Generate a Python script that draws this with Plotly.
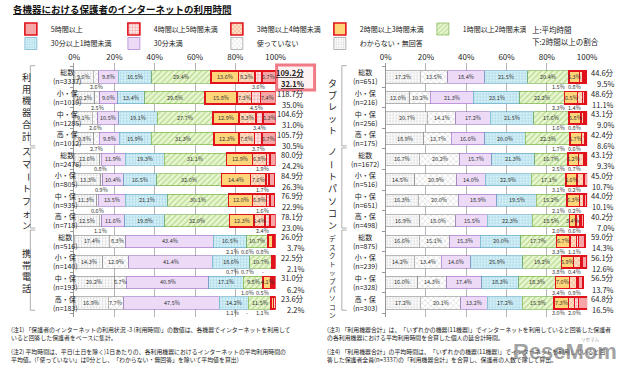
import plotly.graph_objects as go

FONT = "Noto Sans CJK JP"

# ---------------- data ----------------
title_text = "各機器における保護者のインターネットの利用時間"
categories = ["わからない・無回答", "使っていない", "30分未満", "30分以上1時間未満",
              "1時間以上2時間未満", "2時間以上3時間未満", "3時間以上4時間未満",
              "4時間以上5時間未満", "5時間以上"]
row_names = ["総数", "小・保", "中・保", "高・保"] * 3
tick_vals = [0, 20, 40, 60, 80, 100]
tick_text = ["0%", "20%", "40%", "60%", "80%", "100%"]

groups_left = ["利用機器合計", "スマートフォン", "携帯電話"]
n_left = [3337, 1019, 1285, 1012, 2476, 805, 935, 718, 516, 140, 193, 183]
unknown_left = [9.6, 10.2, 9.1, 9.8, 12.6, 13.3, 11.3, 12.5, 17.4, 14.3, 20.2, 16.9]
notuse_left = [2.6, 2.5, 2.6, 2.7, 0.8, 0.9, 0.6, 1.1, 8.3, 12.9, 5.7, 7.7]
under30_left = [9.8, 9.0, 10.5, 9.8, 11.9, 10.4, 13.5, 11.6, 43.4, 41.4, 40.9, 47.5]
m30to60_left = [16.5, 13.4, 19.1, 15.9, 19.3, 16.5, 21.1, 19.8, 16.5, 18.6, 17.1, 14.2]
h1to2_left = [29.4, 29.8, 27.7, 31.3, 31.1, 32.0, 30.1, 32.0, 10.7, 10.7, 9.8, 11.5]
h2to3_left = [13.6, 15.8, 12.9, 12.3, 12.9, 14.4, 12.0, 12.3, 2.1, 0.7, 4.1, 1.1]
h3to4_left = [8.2, 7.3, 8.3, 7.8, 6.8, 7.6, 6.9, 5.4, 0.6, 0.7, 1.0, 0.0]
h4to5_left = [3.6, 4.5, 3.4, 3.7, 1.9, 1.7, 1.6, 2.4, 0.8, 0.0, 0.5, 1.1]
h5plus_left = [6.7, 7.4, 6.3, 6.7, 2.6, 2.6, 2.4, 2.9, 0.2, 0.7, 0.5, 0.0]
avg_left = [109.2, 118.7, 104.6, 105.7, 80.0, 84.9, 76.9, 78.1, 26.0, 22.5, 31.0, 23.6]
share_left = [32.1, 35.0, 31.0, 30.5, 24.2, 26.3, 22.9, 23.0, 3.7, 2.1, 6.2, 2.2]

groups_right = ["タブレット", "ノートパソコン", "デスクトップパソコン"]
n_right = [651, 216, 256, 175, 1672, 516, 651, 498, 875, 239, 328, 303]
unknown_right = [17.2, 12.0, 20.7, 18.9, 16.7, 14.5, 16.3, 16.9, 16.6, 14.2, 16.0, 17.2]
notuse_right = [13.5, 10.2, 14.1, 13.7, 20.2, 20.9, 20.0, 18.0, 15.1, 13.4, 14.3, 20.1]
under30_right = [18.4, 21.3, 17.2, 16.6, 15.7, 14.0, 18.9, 15.5, 15.3, 14.6, 17.4, 13.2]
m30to60_right = [21.5, 23.1, 21.5, 20.0, 21.3, 22.9, 19.5, 22.3, 20.0, 25.9, 18.3, 17.2]
h1to2_right = [20.4, 22.2, 17.6, 22.3, 16.7, 17.1, 15.2, 18.5, 17.7, 19.2, 18.3, 15.8]
h2to3_right = [5.3, 6.5, 5.8, 5.7, 5.2, 5.6, 6.3, 3.4, 6.7, 5.9, 7.0, 7.3]
h3to4_right = [1.5, 2.3, 1.6, 1.7, 2.5, 3.1, 2.1, 2.0, 3.3, 3.8, 3.4, 3.0]
h4to5_right = [0.8, 1.4, 0.8, 0.6, 0.7, 0.2, 0.2, 0.6, 1.1, 0.4, 0.9, 2.0]
h5plus_right = [0.9, 0.9, 0.8, 0.6, 0.9, 1.8, 1.5, 1.0, 3.1, 2.5, 2.4, 4.3]
avg_right = [44.6, 48.6, 43.1, 42.4, 43.1, 45.0, 44.0, 40.2, 59.0, 56.1, 56.5, 64.8]
share_right = [9.5, 11.1, 9.0, 8.6, 9.3, 10.7, 10.1, 7.0, 14.3, 12.6, 13.7, 16.5]

legend_note = ["上:平均時間", "下:2時間以上の割合"]
notes = [
    "(注1) 「保護者のインターネットの利用状況 -3 (利用時間)」の数値は、各機器でインターネットを利用して<br>いると回答した保護者をベースに集計。",
    "(注2) 平均時間は、平日(土日を除く)1日あたりの、各利用機器におけるインターネットの平均利用時間の<br>平均値。(「使っていない」は0分とし、「わからない・無回答」を除いて平均値を算出)",
    "(注3) 「利用機器合計」は、「いずれかの機器(11機器)」でインターネットを利用していると回答した保護者<br>の各利用機器における平均利用時間を合算した個人の延合計時間。",
    "(注4) 「利用機器合計」の平均時間は、「いずれかの機器(11機器)」でインターネットを利用していると回<br>答した保護者全員(n=3337)の「利用機器合計」を合算し、保護者の人数で除して算出。",
]

# ---------------- styles ----------------
RED = "#e0121b"
styles = [
    dict(bg="#ffffff", fg="#a5a5a5", shape=".", size=3, sol=0.3, line="#8a8a8a", lw=0.6),
    dict(bg="#ffffff", fg="#8a8a8a", shape="x", size=4, sol=0.2, line="#8a8a8a", lw=0.6),
    dict(bg="#ecdaf7", fg="#ecdaf7", shape="", size=4, sol=0.3, line="#9a6cc6", lw=0.6),
    dict(bg="#d7f1f8", fg="#6cb4cf", shape=".", size=3, sol=0.35, line="#5aa4c2", lw=0.6),
    dict(bg="#e9f6d2", fg="#84bd48", shape="/", size=4, sol=0.3, line="#6ea83c", lw=0.6),
    dict(bg="#ffd57a", fg="#ffd57a", shape="", size=4, sol=0.3, line=RED, lw=1.6),
    dict(bg="#fde2c6", fg="#e4572e", shape="x", size=3.5, sol=0.3, line=RED, lw=1.6),
    dict(bg="#fde9e9", fg="#e23b3b", shape="+", size=3.5, sol=0.3, line=RED, lw=1.6),
    dict(bg="#f6a6a6", fg="#f6a6a6", shape="", size=4, sol=0.3, line=RED, lw=1.6),
]

W, H = 640, 371
YTOP, YBOT = 62.6, 317.4          # pixel extent of bar area
ROW_RANGE = [11.7, -0.7]
panels = [
    dict(xa="x", ya="y",
         data=[unknown_left, notuse_left, under30_left, m30to60_left, h1to2_left,
               h2to3_left, h3to4_left, h4to5_left, h5plus_left],
         groups=groups_left, n=n_left, avg=avg_left, share=share_left,
         glabel_x=14, bracket_x=25, rowlab_x=46, sum_x=308),
    dict(xa="x2", ya="y2",
         data=[unknown_right, notuse_right, under30_right, m30to60_right, h1to2_right,
               h2to3_right, h3to4_right, h4to5_right, h5plus_right],
         groups=groups_right, n=n_right, avg=avg_right, share=share_right,
         glabel_x=335, bracket_x=345, rowlab_x=369, sum_x=627),
]

fig = go.Figure()
ann = []
shapes = []
rows = list(range(12))


def px(xpix):
    return xpix / W


for p, P in enumerate(panels):
    for ci, cat in enumerate(categories):
        s = styles[ci]
        fig.add_trace(go.Bar(
            orientation="h", y=rows, x=P["data"][ci], name=cat,
            xaxis=P["xa"], yaxis=P["ya"], width=0.6,
            marker=dict(color=s["bg"], line=dict(color=s["line"], width=s["lw"]),
                        pattern=dict(shape=s["shape"], fgcolor=s["fg"], bgcolor=s["bg"],
                                     size=s["size"], solidity=s["sol"], fillmode="overlay")),
            showlegend=(p == 0), legend=("legend" if ci >= 4 else "legend2"),
            hoverinfo="skip",
        ))

    yref = P["ya"]
    xref = P["xa"]
    for r in rows:
        vals = [P["data"][ci][r] for ci in range(9)]
        cum = 0.0
        below = []
        for ci, v in enumerate(vals):
            c = cum + v / 2
            if v >= 5 or (ci == 5 and v >= 3):
                ann.append(dict(x=c, y=r, xref=xref, yref=yref, text=f"{v:.1f}%",
                                showarrow=False, font=dict(size=5.5, color="#333")))
            else:
                below.append([c, f"{v:.1f}%" if v > 0 else "-"])
            cum += v
        below.sort(key=lambda t: t[0])
        gap = 7.5
        for i in range(1, len(below)):
            if below[i][0] < below[i - 1][0] + gap:
                below[i][0] = below[i - 1][0] + gap
        if below and below[-1][0] > 101:
            below[-1][0] = 101
            for i in range(len(below) - 2, -1, -1):
                if below[i][0] > below[i + 1][0] - gap:
                    below[i][0] = below[i + 1][0] - gap
        for c, t in below:
            ann.append(dict(x=c, y=r + 0.5, xref=xref, yref=yref, text=t,
                            showarrow=False, font=dict(size=5.5, color="#333")))
        # row labels
        ann.append(dict(x=px(P["rowlab_x"]), y=r, xref="paper", yref=yref,
                        text=f"{row_names[r]}<br>(n={P['n'][r]})", showarrow=False,
                        align="center", font=dict(size=7, color="#222")))
        # summary
        at = f"{P['avg'][r]:.1f}分"
        st = f"{P['share'][r]:.1f}%"
        if p == 0 and r == 0:
            at = f"<b><u>{at}</u></b>"
            st = f"<b><u>{st}</u></b>"
        ann.append(dict(x=px(P["sum_x"]), y=r - 0.22, xref="paper", yref=yref, text=at,
                        showarrow=False, xanchor="right", font=dict(size=7.5, color="#222")))
        ann.append(dict(x=px(P["sum_x"]), y=r + 0.32, xref="paper", yref=yref, text=st,
                        showarrow=False, xanchor="right", font=dict(size=7.5, color="#222")))

    # group labels (vertical) and brackets
    for g, gname in enumerate(P["groups"]):
        n = len(gname)
        if "ー" in gname:
            # per-character so that the long vowel mark can be turned upright
            center, step, fsz = 4 * g + 1.45, 0.6, 9
            for k, ch in enumerate(gname):
                ann.append(dict(x=px(P["glabel_x"]), y=center + (k - (n - 1) / 2) * step,
                                xref="paper", yref=yref, text=ch, showarrow=False,
                                textangle=90 if ch == "ー" else 0,
                                font=dict(size=fsz, color="#222")))
        else:
            fsz = 9 if n <= 7 else 6.6
            center = 4 * g + (1.45 if n <= 7 else 1.7)
            ann.append(dict(x=px(P["glabel_x"]), y=center, xref="paper", yref=yref,
                            yanchor="middle", text="<br>".join(gname), showarrow=False,
                            align="center", font=dict(size=fsz, color="#222")))
        top, bot = 4 * g - 0.55, 4 * g + 3.35
        bx = px(P["bracket_x"])
        for (xa0, ya0, xa1, ya1) in [(bx, top, bx, bot), (bx, top, bx + 5 / W, top),
                                     (bx, bot, bx + 5 / W, bot)]:
            shapes.append(dict(type="line", xref="paper", yref=yref, x0=xa0, y0=ya0,
                               x1=xa1, y1=ya1, line=dict(color="#999", width=0.8)))

# highlight box around the total row summary
shapes.append(dict(type="rect", xref="paper", yref="paper", layer="below",
                   x0=px(278), x1=px(317), y0=1 - 90 / H, y1=1 - 65 / H,
                   line=dict(color="#f07a86", width=3), fillcolor="#fff2f3"))

# title
ann.append(dict(x=px(5), y=1 - 9 / H, xref="paper", yref="paper", xanchor="left",
                yanchor="middle", text=f"<b><u>{title_text}</u></b>", showarrow=False,
                font=dict(size=9.5, color="#111")))
# legend note
for i, t in enumerate(legend_note):
    ann.append(dict(x=px(538), y=1 - (29 + 12 * i) / H, xref="paper", yref="paper",
                    xanchor="left", yanchor="middle", text=t, showarrow=False,
                    font=dict(size=7.5, color="#222")))
# footnotes
note_pos = [(3, 333), (3, 355), (328, 333), (328, 355)]
for t, (nx, ny) in zip(notes, note_pos):
    ann.append(dict(x=px(nx), y=1 - ny / H, xref="paper", yref="paper", xanchor="left",
                    yanchor="middle", align="left", text=t, showarrow=False,
                    font=dict(size=5.9, color="#222")))
# watermark
ann.append(dict(x=px(630), y=1 - 351 / H, xref="paper", yref="paper", xanchor="right",
                yanchor="middle", text="<b>ReseMom</b>", showarrow=False,
                font=dict(size=22, color="rgba(120,120,120,0.7)", family="Arial")))
ann.append(dict(x=px(612), y=1 - 339 / H, xref="paper", yref="paper", yanchor="middle",
                text="リセマム", showarrow=False,
                font=dict(size=4.5, color="rgba(120,120,120,0.8)")))

ydom = [1 - YBOT / H, 1 - YTOP / H]
xcommon = dict(range=[0, 100], side="top", tickvals=tick_vals, ticktext=tick_text,
               showgrid=True, gridcolor="#b5b5b5", gridwidth=0.6, zeroline=False,
               showline=False, tickfont=dict(size=8, color="#222"), ticks="")
ycommon = dict(range=ROW_RANGE, domain=ydom, showticklabels=False, showgrid=False,
               zeroline=False, showline=True, linecolor="#999", linewidth=0.8,
               tickvals=[i + 0.5 for i in range(-1, 12)], ticks="outside", ticklen=3,
               tickcolor="#999")

leg_common = dict(orientation="h", xanchor="left", yanchor="middle", traceorder="reversed",
                  entrywidth=58, entrywidthmode="pixels", bgcolor="rgba(0,0,0,0)",
                  font=dict(size=7, color="#222"), itemwidth=30, tracegroupgap=0)

fig.update_layout(
    width=W, height=H, margin=dict(l=0, r=0, t=0, b=0),
    paper_bgcolor="white", plot_bgcolor="white",
    font=dict(family=FONT, color="#222"),
    barmode="stack", bargap=0.4,
    xaxis=dict(domain=[px(70), px(277)], anchor="y", **xcommon),
    xaxis2=dict(domain=[px(390), px(597)], anchor="y2", **xcommon),
    yaxis=dict(anchor="x", **ycommon),
    yaxis2=dict(anchor="x2", **ycommon),
    legend=dict(x=px(5), y=1 - 29 / H, **leg_common),
    legend2=dict(x=px(5), y=1 - 43.5 / H, **leg_common),
    annotations=ann, shapes=shapes,
)

fig.write_html("out.html", config={"displayModeBar": False},
               post_script="document.body.style.margin='0px';")
